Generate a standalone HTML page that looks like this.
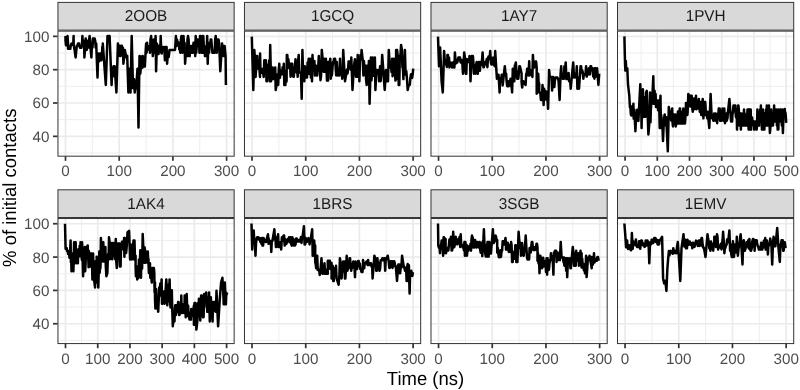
<!DOCTYPE html><html><head><meta charset="utf-8"><style>html,body{margin:0;padding:0;background:#fff;}svg{display:block;}text{font-family:"Liberation Sans",sans-serif;text-rendering:geometricPrecision;}</style></head><body>
<svg width="800" height="390" viewBox="0 0 800 390">
<rect width="800" height="390" fill="#fff"/>
<line x1="57.45" y1="153.01" x2="234.65" y2="153.01" stroke="#EBEBEB" stroke-width="0.86"/>
<line x1="57.45" y1="119.68" x2="234.65" y2="119.68" stroke="#EBEBEB" stroke-width="0.86"/>
<line x1="57.45" y1="86.35" x2="234.65" y2="86.35" stroke="#EBEBEB" stroke-width="0.86"/>
<line x1="57.45" y1="53.01" x2="234.65" y2="53.01" stroke="#EBEBEB" stroke-width="0.86"/>
<line x1="92.35" y1="30.63" x2="92.35" y2="156.38" stroke="#EBEBEB" stroke-width="0.86"/>
<line x1="146.05" y1="30.63" x2="146.05" y2="156.38" stroke="#EBEBEB" stroke-width="0.86"/>
<line x1="199.75" y1="30.63" x2="199.75" y2="156.38" stroke="#EBEBEB" stroke-width="0.86"/>
<line x1="57.45" y1="136.35" x2="234.65" y2="136.35" stroke="#EBEBEB" stroke-width="1.72"/>
<line x1="57.45" y1="103.01" x2="234.65" y2="103.01" stroke="#EBEBEB" stroke-width="1.72"/>
<line x1="57.45" y1="69.68" x2="234.65" y2="69.68" stroke="#EBEBEB" stroke-width="1.72"/>
<line x1="57.45" y1="36.35" x2="234.65" y2="36.35" stroke="#EBEBEB" stroke-width="1.72"/>
<line x1="65.50" y1="30.63" x2="65.50" y2="156.38" stroke="#EBEBEB" stroke-width="1.72"/>
<line x1="119.20" y1="30.63" x2="119.20" y2="156.38" stroke="#EBEBEB" stroke-width="1.72"/>
<line x1="172.90" y1="30.63" x2="172.90" y2="156.38" stroke="#EBEBEB" stroke-width="1.72"/>
<line x1="226.60" y1="30.63" x2="226.60" y2="156.38" stroke="#EBEBEB" stroke-width="1.72"/>
<clipPath id="c0"><rect x="57.45" y="30.63" width="177.20" height="125.75"/></clipPath>
<polyline clip-path="url(#c0)" points="65.5,36.1 65.5,40.7 66.0,45.3 66.5,43.0 67.0,45.3 67.5,36.1 68.0,43.0 68.0,48.8 68.6,48.8 69.2,47.8 69.7,46.7 70.3,48.8 70.9,44.7 71.5,43.6 72.0,44.7 72.6,44.7 73.2,44.7 73.6,36.1 73.7,44.7 74.3,48.8 74.6,49.9 75.6,57.4 76.8,45.7 77.4,45.7 78.0,43.6 78.5,43.6 79.1,43.6 79.6,46.7 80.2,47.8 80.7,47.8 81.3,47.8 81.9,45.7 82.4,36.1 83.1,45.3 83.6,40.7 84.1,43.0 84.4,57.4 85.1,47.6 85.7,38.4 86.2,49.9 86.8,49.9 87.4,43.0 87.9,40.7 88.5,47.6 89.0,40.7 89.6,36.1 90.1,40.7 90.7,49.9 91.4,57.4 91.9,45.3 92.5,47.6 93.0,38.4 93.6,38.4 94.1,38.4 94.6,38.4 95.2,40.7 95.7,47.6 96.2,43.6 97.5,77.4 98.2,53.6 98.7,58.7 99.2,61.2 99.7,56.1 100.2,53.6 100.7,58.7 100.7,57.0 101.3,60.3 101.8,57.0 102.3,47.0 102.8,57.0 102.8,43.6 105.8,85.0 107.5,36.1 109.6,36.1 111.6,85.0 112.1,71.2 112.6,68.7 113.1,68.7 113.6,66.2 114.1,76.2 114.6,66.2 116.4,92.5 117.9,43.6 118.4,56.1 118.9,49.9 119.5,45.7 120.1,47.8 120.6,56.1 121.2,45.7 121.8,45.7 122.3,49.9 122.9,47.8 123.4,63.7 124.2,57.2 124.8,49.9 125.4,52.8 126.0,57.2 126.6,55.7 127.2,55.7 128.4,92.5 129.4,68.7 130.5,92.5 131.7,36.1 133.0,88.1 133.6,83.7 134.1,79.3 134.7,92.5 135.3,88.1 135.9,88.1 136.5,83.7 137.5,68.7 138.5,127.6 139.5,56.1 139.8,56.1 140.3,73.7 140.8,67.8 141.3,62.0 141.8,62.0 142.3,67.8 142.3,56.1 142.8,56.1 143.3,60.3 143.8,66.6 144.3,64.5 144.8,66.6 146.1,43.6 146.6,52.8 147.1,42.8 147.7,49.5 148.3,46.1 148.8,49.5 149.4,46.1 150.0,52.8 150.5,39.4 151.1,36.1 151.7,42.8 152.2,42.8 152.8,56.1 153.4,49.5 153.9,39.4 154.5,42.8 155.1,52.8 155.6,36.1 156.1,71.2 156.9,43.6 157.4,47.8 158.0,47.8 158.5,54.1 159.1,45.7 159.6,49.9 160.2,52.0 160.7,36.1 161.2,50.3 161.7,53.6 162.2,47.0 162.8,50.3 163.3,50.3 163.9,47.0 164.4,50.3 164.9,60.3 165.5,47.0 166.0,47.0 166.6,47.0 167.1,63.7 167.6,57.0 168.2,53.6 168.7,57.0 169.5,49.9 175.0,49.9 175.3,46.1 175.9,36.1 176.4,46.1 177.0,39.4 177.6,42.8 178.2,42.8 178.8,46.1 178.8,42.8 179.3,49.5 179.8,49.5 180.4,52.8 180.9,39.4 181.4,36.1 181.9,49.5 182.5,52.8 183.0,39.4 183.5,36.1 184.1,46.1 184.6,42.8 185.1,63.7 185.8,52.8 186.4,56.1 186.9,56.1 187.5,39.4 188.0,36.1 188.6,39.4 189.1,56.1 189.7,56.1 190.2,46.1 190.8,46.1 191.3,52.8 191.9,46.1 192.4,52.8 193.0,52.8 193.5,42.8 194.1,42.8 194.6,49.5 195.2,49.5 195.2,56.1 195.7,36.1 196.2,52.8 196.8,46.1 197.3,39.4 197.8,39.4 198.4,42.8 198.9,39.4 199.5,52.8 200.0,36.1 200.5,36.1 201.1,39.4 201.6,52.8 202.2,46.1 202.7,52.8 202.7,36.1 203.3,36.1 203.8,46.1 204.4,46.1 205.0,56.1 205.5,56.1 206.1,52.8 206.7,49.5 207.2,36.1 207.7,63.7 208.5,42.8 209.1,52.8 209.6,42.8 210.2,46.1 210.7,39.4 211.3,39.4 211.8,46.1 212.4,52.8 212.9,52.8 213.5,52.8 214.1,52.8 214.6,52.8 215.2,39.4 215.7,36.1 216.3,46.1 216.8,52.8 217.4,39.4 218.0,49.5 218.5,39.4 219.1,42.8 220.3,71.2 222.1,43.6 223.6,56.1 224.6,46.1 225.6,56.1 225.9,85.0" fill="none" stroke="#000" stroke-width="2.50" stroke-linejoin="round"/>
<rect x="57.95" y="31.13" width="176.20" height="125.05" fill="none" stroke="#333" stroke-width="1.00"/>
<rect x="57.95" y="2.40" width="176.20" height="27.73" fill="#D9D9D9" stroke="#333" stroke-width="1.00"/>
<text transform="translate(146.05,21.30) scale(1,1.03)" font-size="15.3" fill="#1A1A1A" text-anchor="middle">2OOB</text>
<line x1="65.50" y1="156.38" x2="65.50" y2="160.82" stroke="#333" stroke-width="1.72"/>
<text transform="translate(65.50,176.30) scale(1,1.0)" font-size="15.2" fill="#4D4D4D" text-anchor="middle">0</text>
<line x1="119.20" y1="156.38" x2="119.20" y2="160.82" stroke="#333" stroke-width="1.72"/>
<text transform="translate(119.20,176.30) scale(1,1.0)" font-size="15.2" fill="#4D4D4D" text-anchor="middle">100</text>
<line x1="172.90" y1="156.38" x2="172.90" y2="160.82" stroke="#333" stroke-width="1.72"/>
<text transform="translate(172.90,176.30) scale(1,1.0)" font-size="15.2" fill="#4D4D4D" text-anchor="middle">200</text>
<line x1="226.60" y1="156.38" x2="226.60" y2="160.82" stroke="#333" stroke-width="1.72"/>
<text transform="translate(226.60,176.30) scale(1,1.0)" font-size="15.2" fill="#4D4D4D" text-anchor="middle">300</text>
<line x1="53.01" y1="136.35" x2="57.45" y2="136.35" stroke="#333" stroke-width="1.72"/>
<text transform="translate(49.40,141.79) scale(1,1.0)" font-size="15.2" fill="#4D4D4D" text-anchor="end">40</text>
<line x1="53.01" y1="103.01" x2="57.45" y2="103.01" stroke="#333" stroke-width="1.72"/>
<text transform="translate(49.40,108.45) scale(1,1.0)" font-size="15.2" fill="#4D4D4D" text-anchor="end">60</text>
<line x1="53.01" y1="69.68" x2="57.45" y2="69.68" stroke="#333" stroke-width="1.72"/>
<text transform="translate(49.40,75.12) scale(1,1.0)" font-size="15.2" fill="#4D4D4D" text-anchor="end">80</text>
<line x1="53.01" y1="36.35" x2="57.45" y2="36.35" stroke="#333" stroke-width="1.72"/>
<text transform="translate(49.40,41.79) scale(1,1.0)" font-size="15.2" fill="#4D4D4D" text-anchor="end">100</text>
<line x1="243.97" y1="153.01" x2="421.17" y2="153.01" stroke="#EBEBEB" stroke-width="0.86"/>
<line x1="243.97" y1="119.68" x2="421.17" y2="119.68" stroke="#EBEBEB" stroke-width="0.86"/>
<line x1="243.97" y1="86.35" x2="421.17" y2="86.35" stroke="#EBEBEB" stroke-width="0.86"/>
<line x1="243.97" y1="53.01" x2="421.17" y2="53.01" stroke="#EBEBEB" stroke-width="0.86"/>
<line x1="278.87" y1="30.63" x2="278.87" y2="156.38" stroke="#EBEBEB" stroke-width="0.86"/>
<line x1="332.57" y1="30.63" x2="332.57" y2="156.38" stroke="#EBEBEB" stroke-width="0.86"/>
<line x1="386.27" y1="30.63" x2="386.27" y2="156.38" stroke="#EBEBEB" stroke-width="0.86"/>
<line x1="243.97" y1="136.35" x2="421.17" y2="136.35" stroke="#EBEBEB" stroke-width="1.72"/>
<line x1="243.97" y1="103.01" x2="421.17" y2="103.01" stroke="#EBEBEB" stroke-width="1.72"/>
<line x1="243.97" y1="69.68" x2="421.17" y2="69.68" stroke="#EBEBEB" stroke-width="1.72"/>
<line x1="243.97" y1="36.35" x2="421.17" y2="36.35" stroke="#EBEBEB" stroke-width="1.72"/>
<line x1="252.02" y1="30.63" x2="252.02" y2="156.38" stroke="#EBEBEB" stroke-width="1.72"/>
<line x1="305.72" y1="30.63" x2="305.72" y2="156.38" stroke="#EBEBEB" stroke-width="1.72"/>
<line x1="359.42" y1="30.63" x2="359.42" y2="156.38" stroke="#EBEBEB" stroke-width="1.72"/>
<line x1="413.12" y1="30.63" x2="413.12" y2="156.38" stroke="#EBEBEB" stroke-width="1.72"/>
<clipPath id="c1"><rect x="243.97" y="30.63" width="177.20" height="125.75"/></clipPath>
<polyline clip-path="url(#c1)" points="251.8,36.6 253.3,90.0 254.3,49.9 255.1,60.3 255.6,77.0 256.2,68.7 256.7,56.1 257.3,56.1 257.8,64.5 258.3,68.7 258.9,64.5 259.4,68.7 260.0,77.0 260.1,53.6 260.5,72.9 261.0,72.9 261.6,68.7 262.1,72.9 262.7,72.9 263.2,72.9 263.7,77.0 264.3,60.3 264.8,72.9 265.4,72.9 265.9,60.3 266.5,81.2 267.0,81.2 267.5,68.7 268.1,64.5 268.6,77.0 269.2,60.3 269.7,81.2 270.2,44.9 271.0,81.2 271.5,78.9 272.0,72.0 272.6,67.4 273.1,78.9 273.6,78.9 274.2,78.9 274.7,78.9 275.2,67.4 275.7,90.0 276.5,85.0 277.1,85.0 277.6,74.3 278.2,85.0 278.7,70.8 279.3,63.7 279.9,77.9 280.4,74.3 281.0,70.8 281.5,74.3 282.1,74.3 282.6,67.2 283.2,74.3 283.8,63.7 284.3,85.0 284.9,85.0 285.4,85.0 286.0,70.8 286.6,81.4 286.8,54.9 287.3,54.9 287.9,63.7 288.4,59.3 289.0,68.1 289.5,68.1 290.0,63.7 290.6,76.8 291.1,63.7 291.7,63.7 292.2,63.7 292.8,72.4 293.3,76.8 293.8,76.8 294.4,68.1 294.9,68.1 295.5,59.3 296.0,63.7 296.6,72.4 297.1,68.1 297.7,76.8 298.2,59.3 298.7,54.9 299.3,72.4 299.8,72.4 300.4,72.4 300.9,72.4 301.7,98.8 302.4,49.9 303.2,77.4 303.7,66.2 304.3,81.2 304.8,66.2 305.4,69.9 305.9,77.4 306.5,77.4 307.0,77.4 307.6,62.4 308.1,66.2 308.7,58.7 309.2,73.7 309.8,66.2 310.3,58.7 310.9,77.4 311.4,69.9 312.0,81.2 312.5,54.9 313.2,70.6 313.8,60.9 314.4,60.9 314.9,75.4 315.5,70.6 316.0,65.8 316.6,75.4 317.2,75.4 317.7,65.8 318.3,65.8 318.8,56.1 319.4,70.6 319.9,70.6 320.5,80.2 321.1,75.4 321.8,49.9 322.6,58.7 323.1,58.7 323.7,71.8 324.2,58.7 324.8,71.8 325.3,67.4 325.9,58.7 326.4,67.4 327.0,80.6 327.5,80.6 328.1,80.6 328.1,62.0 328.6,65.3 329.2,68.7 329.7,62.0 330.3,58.7 330.8,78.7 331.3,72.0 331.9,75.4 332.4,68.7 333.0,62.0 333.5,62.0 334.1,58.7 334.6,58.7 335.1,58.7 335.7,68.7 336.2,75.4 336.8,62.0 337.3,72.0 337.8,75.4 338.4,68.7 338.9,75.4 339.5,75.4 340.0,58.7 340.5,72.0 341.1,68.7 341.6,68.7 342.2,78.7 342.7,72.0 343.2,49.9 345.0,81.2 347.0,69.5 347.5,73.5 348.1,69.5 348.6,61.6 349.1,61.6 349.7,61.6 350.2,61.6 350.7,69.5 351.3,57.6 352.5,90.0 353.8,68.1 354.3,63.7 354.9,59.3 355.5,68.1 356.0,76.8 356.6,76.8 357.1,72.4 357.7,54.9 358.3,76.8 358.8,63.7 359.4,81.2 360.0,59.3 360.5,54.9 361.1,59.3 361.6,49.9 362.8,60.9 363.4,75.4 363.9,60.9 364.5,70.6 365.0,70.6 365.6,65.8 366.1,80.2 366.7,85.0 367.2,65.8 367.8,80.2 368.3,80.2 368.9,60.9 369.6,103.8 370.9,57.4 371.5,80.4 372.0,71.2 372.6,57.4 373.2,75.8 373.8,71.2 374.4,71.2 374.9,57.4 375.4,90.0 376.4,69.9 377.0,69.9 377.5,73.7 378.0,73.7 378.6,69.9 379.1,81.2 379.6,73.7 380.1,66.2 380.7,81.2 381.2,73.7 381.7,66.2 382.2,54.9 384.7,90.0 386.0,69.9 386.5,69.9 387.0,81.2 387.5,81.2 388.0,81.2 388.8,49.9 389.8,67.4 390.4,63.0 390.9,63.0 391.5,71.8 392.1,58.7 392.6,76.2 393.2,67.4 393.8,58.7 394.4,71.8 394.9,71.8 395.5,80.6 396.1,76.2 396.1,49.9 396.6,79.1 397.1,49.9 397.7,55.7 398.2,55.7 398.7,85.0 399.3,85.0 399.8,55.7 400.4,55.7 401.1,44.9 401.9,49.9 402.4,67.4 402.9,67.4 403.4,79.1 403.9,61.6 404.4,61.6 404.9,49.9 405.6,74.5 406.3,71.2 406.9,77.9 407.7,90.0 408.7,85.0 409.2,85.0 409.8,85.0 410.4,77.9 411.0,74.3 411.5,74.3 412.1,77.9 412.7,74.3 413.2,68.7" fill="none" stroke="#000" stroke-width="2.50" stroke-linejoin="round"/>
<rect x="244.47" y="31.13" width="176.20" height="125.05" fill="none" stroke="#333" stroke-width="1.00"/>
<rect x="244.47" y="2.40" width="176.20" height="27.73" fill="#D9D9D9" stroke="#333" stroke-width="1.00"/>
<text transform="translate(332.57,21.30) scale(1,1.03)" font-size="15.3" fill="#1A1A1A" text-anchor="middle">1GCQ</text>
<line x1="252.02" y1="156.38" x2="252.02" y2="160.82" stroke="#333" stroke-width="1.72"/>
<text transform="translate(252.02,176.30) scale(1,1.0)" font-size="15.2" fill="#4D4D4D" text-anchor="middle">0</text>
<line x1="305.72" y1="156.38" x2="305.72" y2="160.82" stroke="#333" stroke-width="1.72"/>
<text transform="translate(305.72,176.30) scale(1,1.0)" font-size="15.2" fill="#4D4D4D" text-anchor="middle">100</text>
<line x1="359.42" y1="156.38" x2="359.42" y2="160.82" stroke="#333" stroke-width="1.72"/>
<text transform="translate(359.42,176.30) scale(1,1.0)" font-size="15.2" fill="#4D4D4D" text-anchor="middle">200</text>
<line x1="413.12" y1="156.38" x2="413.12" y2="160.82" stroke="#333" stroke-width="1.72"/>
<text transform="translate(413.12,176.30) scale(1,1.0)" font-size="15.2" fill="#4D4D4D" text-anchor="middle">300</text>
<line x1="430.49" y1="153.01" x2="607.69" y2="153.01" stroke="#EBEBEB" stroke-width="0.86"/>
<line x1="430.49" y1="119.68" x2="607.69" y2="119.68" stroke="#EBEBEB" stroke-width="0.86"/>
<line x1="430.49" y1="86.35" x2="607.69" y2="86.35" stroke="#EBEBEB" stroke-width="0.86"/>
<line x1="430.49" y1="53.01" x2="607.69" y2="53.01" stroke="#EBEBEB" stroke-width="0.86"/>
<line x1="465.39" y1="30.63" x2="465.39" y2="156.38" stroke="#EBEBEB" stroke-width="0.86"/>
<line x1="519.09" y1="30.63" x2="519.09" y2="156.38" stroke="#EBEBEB" stroke-width="0.86"/>
<line x1="572.79" y1="30.63" x2="572.79" y2="156.38" stroke="#EBEBEB" stroke-width="0.86"/>
<line x1="430.49" y1="136.35" x2="607.69" y2="136.35" stroke="#EBEBEB" stroke-width="1.72"/>
<line x1="430.49" y1="103.01" x2="607.69" y2="103.01" stroke="#EBEBEB" stroke-width="1.72"/>
<line x1="430.49" y1="69.68" x2="607.69" y2="69.68" stroke="#EBEBEB" stroke-width="1.72"/>
<line x1="430.49" y1="36.35" x2="607.69" y2="36.35" stroke="#EBEBEB" stroke-width="1.72"/>
<line x1="438.54" y1="30.63" x2="438.54" y2="156.38" stroke="#EBEBEB" stroke-width="1.72"/>
<line x1="492.24" y1="30.63" x2="492.24" y2="156.38" stroke="#EBEBEB" stroke-width="1.72"/>
<line x1="545.94" y1="30.63" x2="545.94" y2="156.38" stroke="#EBEBEB" stroke-width="1.72"/>
<line x1="599.64" y1="30.63" x2="599.64" y2="156.38" stroke="#EBEBEB" stroke-width="1.72"/>
<clipPath id="c2"><rect x="430.49" y="30.63" width="177.20" height="125.75"/></clipPath>
<polyline clip-path="url(#c2)" points="438.0,36.6 439.0,66.2 440.1,47.4 441.6,81.2 442.8,92.5 444.1,51.1 444.8,60.7 445.3,62.8 445.8,60.7 446.3,64.9 446.9,67.0 447.4,64.9 447.4,54.9 447.9,54.9 448.4,64.9 449.0,57.4 449.5,67.4 450.1,62.4 450.6,62.4 451.2,64.9 451.7,64.9 452.2,67.4 452.8,62.4 453.3,62.4 453.9,67.4 454.4,67.4 454.9,52.4 455.7,63.7 456.2,59.9 456.8,62.4 457.3,62.4 457.8,59.9 458.4,57.4 458.9,59.9 459.5,58.7 460.0,57.4 460.6,62.4 461.1,59.9 461.7,59.9 462.2,61.2 463.0,73.7 464.2,52.4 464.7,56.1 465.3,64.9 465.8,73.7 466.3,73.7 466.8,59.1 467.4,62.0 467.9,62.0 468.4,62.0 469.0,62.0 469.5,56.1 470.0,59.1 470.5,81.2 471.3,64.9 471.8,56.1 472.4,56.1 472.9,56.1 473.4,62.0 474.0,73.7 474.5,64.9 475.1,67.8 475.6,73.7 476.1,64.9 476.7,62.0 477.2,70.8 477.8,73.7 478.3,64.9 478.8,62.0 479.4,62.0 479.9,70.8 480.5,62.0 481.0,62.0 481.6,64.9 482.1,59.1 482.6,52.4 483.4,67.2 483.9,67.2 484.5,64.5 485.1,64.5 485.6,61.8 486.2,61.8 486.8,59.1 487.4,67.2 487.9,59.1 488.5,56.4 489.1,59.1 489.6,59.1 490.2,51.1 490.9,62.8 491.4,64.5 492.0,64.5 492.5,57.8 493.1,64.5 493.6,57.8 494.1,64.5 494.7,66.2 495.2,51.1 496.9,78.7 498.0,78.3 498.5,74.7 499.0,81.8 499.6,92.5 500.1,78.3 500.6,78.3 501.1,81.8 501.7,74.7 502.2,74.7 502.7,85.4 504.8,66.2 505.5,73.7 506.1,73.7 506.6,81.2 507.2,86.2 507.7,81.2 508.3,81.2 508.8,86.2 509.4,81.2 509.9,83.7 510.5,78.7 511.0,86.2 511.6,86.2 512.1,92.5 512.8,68.7 513.3,71.8 513.8,71.8 514.3,81.2 514.8,65.5 515.3,65.5 515.8,62.4 516.6,73.7 517.1,78.7 517.7,76.2 518.3,78.7 518.8,73.7 519.4,66.2 519.9,66.2 520.5,68.7 521.1,71.2 521.6,73.7 521.6,82.5 522.2,87.5 522.8,82.5 523.3,81.2 523.9,83.7 524.5,83.7 525.1,82.5 525.6,85.0 526.2,73.7 526.7,73.7 527.2,68.7 527.7,72.0 528.2,75.4 528.7,72.0 529.2,61.2 529.7,75.4 530.2,70.3 530.8,70.3 531.3,72.0 531.9,72.0 532.4,77.0 532.9,54.9 533.7,67.4 534.3,67.4 534.9,64.5 535.5,61.6 536.1,61.6 536.7,67.4 536.7,93.7 537.2,88.7 537.7,83.7 538.2,73.7 538.7,83.7 539.2,83.7 539.2,92.5 539.8,92.5 540.3,92.5 540.9,100.0 541.4,100.0 541.9,100.0 542.5,85.0 543.0,96.2 543.0,88.7 543.6,105.0 544.1,88.7 544.6,91.4 545.2,99.6 545.7,91.4 546.2,91.4 546.8,96.9 547.3,96.9 548.1,108.8 549.1,69.9 549.8,77.0 550.4,77.0 550.9,77.0 551.5,77.0 552.1,90.4 552.6,77.0 553.2,77.0 553.7,83.7 554.3,87.1 554.9,80.4 555.6,77.4 556.2,77.4 556.8,77.4 557.4,77.4 558.0,78.7 558.6,81.2 559.6,100.0 560.6,73.7 561.2,66.2 561.7,76.2 562.2,76.2 562.8,78.7 563.3,78.7 563.9,78.7 564.4,66.2 564.9,73.7 565.7,62.4 566.4,79.1 567.0,74.9 567.5,74.9 568.0,79.1 568.6,72.9 569.1,81.2 569.7,81.2 570.2,81.2 570.7,88.7 573.2,62.4 574.0,77.4 574.5,77.4 575.1,73.7 575.7,77.4 576.2,77.4 576.8,66.2 577.4,88.7 577.9,77.4 578.5,85.0 579.0,88.7 580.0,74.5 580.6,66.2 581.1,66.2 581.7,72.4 582.2,70.3 582.8,72.4 583.3,78.7 583.9,74.5 584.4,74.5 585.0,74.5 585.5,74.5 586.1,66.2 586.7,76.6 587.2,74.5 587.8,74.5 588.3,74.5 588.9,68.3 589.4,68.3 590.0,74.5 590.5,66.2 591.1,66.2 591.6,70.3 592.2,70.3 592.7,68.3 593.3,76.6 593.8,70.3 594.4,78.7 594.9,68.3 595.5,68.3 596.0,70.3 596.6,76.6 597.1,68.3 598.4,85.0 599.2,73.7" fill="none" stroke="#000" stroke-width="2.50" stroke-linejoin="round"/>
<rect x="430.99" y="31.13" width="176.20" height="125.05" fill="none" stroke="#333" stroke-width="1.00"/>
<rect x="430.99" y="2.40" width="176.20" height="27.73" fill="#D9D9D9" stroke="#333" stroke-width="1.00"/>
<text transform="translate(519.09,21.30) scale(1,1.03)" font-size="15.3" fill="#1A1A1A" text-anchor="middle">1AY7</text>
<line x1="438.54" y1="156.38" x2="438.54" y2="160.82" stroke="#333" stroke-width="1.72"/>
<text transform="translate(438.54,176.30) scale(1,1.0)" font-size="15.2" fill="#4D4D4D" text-anchor="middle">0</text>
<line x1="492.24" y1="156.38" x2="492.24" y2="160.82" stroke="#333" stroke-width="1.72"/>
<text transform="translate(492.24,176.30) scale(1,1.0)" font-size="15.2" fill="#4D4D4D" text-anchor="middle">100</text>
<line x1="545.94" y1="156.38" x2="545.94" y2="160.82" stroke="#333" stroke-width="1.72"/>
<text transform="translate(545.94,176.30) scale(1,1.0)" font-size="15.2" fill="#4D4D4D" text-anchor="middle">200</text>
<line x1="599.64" y1="156.38" x2="599.64" y2="160.82" stroke="#333" stroke-width="1.72"/>
<text transform="translate(599.64,176.30) scale(1,1.0)" font-size="15.2" fill="#4D4D4D" text-anchor="middle">300</text>
<line x1="617.01" y1="153.01" x2="794.21" y2="153.01" stroke="#EBEBEB" stroke-width="0.86"/>
<line x1="617.01" y1="119.68" x2="794.21" y2="119.68" stroke="#EBEBEB" stroke-width="0.86"/>
<line x1="617.01" y1="86.35" x2="794.21" y2="86.35" stroke="#EBEBEB" stroke-width="0.86"/>
<line x1="617.01" y1="53.01" x2="794.21" y2="53.01" stroke="#EBEBEB" stroke-width="0.86"/>
<line x1="641.17" y1="30.63" x2="641.17" y2="156.38" stroke="#EBEBEB" stroke-width="0.86"/>
<line x1="673.39" y1="30.63" x2="673.39" y2="156.38" stroke="#EBEBEB" stroke-width="0.86"/>
<line x1="705.61" y1="30.63" x2="705.61" y2="156.38" stroke="#EBEBEB" stroke-width="0.86"/>
<line x1="737.83" y1="30.63" x2="737.83" y2="156.38" stroke="#EBEBEB" stroke-width="0.86"/>
<line x1="770.05" y1="30.63" x2="770.05" y2="156.38" stroke="#EBEBEB" stroke-width="0.86"/>
<line x1="617.01" y1="136.35" x2="794.21" y2="136.35" stroke="#EBEBEB" stroke-width="1.72"/>
<line x1="617.01" y1="103.01" x2="794.21" y2="103.01" stroke="#EBEBEB" stroke-width="1.72"/>
<line x1="617.01" y1="69.68" x2="794.21" y2="69.68" stroke="#EBEBEB" stroke-width="1.72"/>
<line x1="617.01" y1="36.35" x2="794.21" y2="36.35" stroke="#EBEBEB" stroke-width="1.72"/>
<line x1="625.06" y1="30.63" x2="625.06" y2="156.38" stroke="#EBEBEB" stroke-width="1.72"/>
<line x1="657.28" y1="30.63" x2="657.28" y2="156.38" stroke="#EBEBEB" stroke-width="1.72"/>
<line x1="689.50" y1="30.63" x2="689.50" y2="156.38" stroke="#EBEBEB" stroke-width="1.72"/>
<line x1="721.72" y1="30.63" x2="721.72" y2="156.38" stroke="#EBEBEB" stroke-width="1.72"/>
<line x1="753.94" y1="30.63" x2="753.94" y2="156.38" stroke="#EBEBEB" stroke-width="1.72"/>
<line x1="786.16" y1="30.63" x2="786.16" y2="156.38" stroke="#EBEBEB" stroke-width="1.72"/>
<clipPath id="c3"><rect x="617.01" y="30.63" width="177.20" height="125.75"/></clipPath>
<polyline clip-path="url(#c3)" points="624.4,36.4 624.7,50.4 625.1,65.7 625.4,70.6 625.8,60.9 626.2,68.2 626.6,68.2 627.0,68.2 627.3,68.2 628.0,84.3 629.3,95.7 629.9,107.3 630.3,105.4 630.6,111.0 630.9,114.8 631.2,111.0 631.2,109.7 631.6,115.6 631.9,106.7 632.3,115.6 632.6,115.6 633.0,112.7 633.4,103.8 633.7,118.6 634.1,118.6 634.4,109.7 634.8,118.6 635.4,131.3 636.1,117.2 636.5,113.5 636.8,117.2 637.2,109.7 637.6,117.2 638.0,117.2 638.4,121.0 640.3,84.3 640.9,106.5 641.3,111.8 641.6,128.0 641.9,106.5 642.2,111.8 642.6,117.2 642.9,89.2 643.5,116.7 643.9,111.8 644.3,97.3 644.7,116.7 645.0,116.7 645.4,116.7 645.8,102.1 646.1,92.4 646.8,90.8 648.4,134.5 649.4,122.1 649.7,116.2 650.1,92.4 650.5,122.1 650.8,110.2 651.2,104.3 651.6,104.3 651.9,98.4 652.3,98.4 653.3,76.2 653.9,103.8 654.3,90.8 654.6,90.8 654.9,97.3 655.3,103.8 655.6,94.0 656.0,107.0 656.3,103.8 656.7,107.0 657.0,100.5 657.4,100.5 657.7,103.8 658.1,110.2 658.4,107.0 658.8,100.5 659.1,100.5 659.7,128.0 660.1,102.1 660.5,95.7 660.9,128.0 661.2,115.1 661.6,128.0 662.0,128.0 662.3,121.6 663.0,141.0 664.0,117.2 664.3,117.2 664.7,114.5 665.1,125.3 665.5,125.3 665.9,119.9 666.2,117.2 667.8,151.3 668.8,107.0 670.1,114.5 670.5,114.5 670.8,117.5 671.2,120.5 671.5,120.5 671.9,111.6 672.2,108.6 672.6,123.4 673.0,126.4 673.3,123.4 673.7,114.5 674.0,114.5 674.4,123.4 674.7,123.4 675.1,120.5 675.4,114.5 675.8,126.4 676.2,120.5 676.5,117.5 676.9,123.4 677.2,120.5 677.6,120.5 677.9,111.6 678.3,123.4 678.6,123.4 679.0,111.6 679.3,123.4 679.7,108.6 680.1,108.6 680.4,120.5 680.8,111.6 681.1,123.4 681.5,117.5 681.8,117.5 682.2,123.4 682.5,114.5 682.9,120.5 683.3,108.6 683.6,123.4 684.0,123.4 684.3,111.6 684.7,120.5 685.0,123.4 685.7,112.7 686.0,102.9 686.3,112.7 686.6,107.8 687.0,110.2 687.3,115.1 687.6,112.7 688.3,94.0 689.2,98.4 689.6,98.4 690.0,95.7 690.3,106.5 690.7,95.7 691.0,101.1 691.4,98.4 691.7,95.7 692.1,106.5 692.4,109.2 692.8,111.8 693.1,106.5 693.5,109.2 693.9,98.4 694.2,109.2 694.6,103.8 694.9,103.8 695.3,106.5 695.6,101.1 696.0,95.7 696.3,109.2 696.7,106.5 697.3,105.4 697.7,108.6 698.1,108.6 698.4,102.1 698.8,98.9 699.1,108.6 699.5,105.4 699.8,111.8 700.2,108.6 700.6,102.1 700.9,111.8 701.3,115.1 701.6,102.1 702.0,115.1 702.3,102.1 702.7,98.9 703.0,111.8 703.4,118.3 703.8,111.8 704.1,102.1 704.5,102.1 704.8,115.1 705.2,102.1 705.5,105.4 705.9,115.1 706.3,115.1 706.6,115.1 707.0,115.1 707.3,118.3 707.7,111.8 708.0,115.1 709.3,128.0 710.6,94.0 711.6,115.9 712.0,118.3 712.3,118.3 712.7,115.9 713.0,118.3 713.4,120.7 713.7,120.7 714.1,113.5 714.4,115.9 714.8,115.9 715.1,115.9 715.5,113.5 715.8,120.7 716.2,120.7 716.5,120.7 716.9,120.7 717.2,123.2 717.6,113.5 717.9,113.5 718.3,118.3 718.7,108.6 719.0,108.6 719.4,108.6 719.7,108.6 720.1,120.7 720.4,113.5 720.8,111.0 721.1,111.0 721.5,111.0 721.8,120.7 722.2,113.5 722.5,108.6 722.9,118.3 723.2,111.0 723.6,115.9 723.9,120.7 724.3,108.6 724.6,115.9 725.0,123.2 725.3,120.7 725.7,120.7 726.1,118.3 726.4,113.5 726.8,120.7 727.1,118.3 727.5,118.3 727.8,113.5 729.4,98.9 731.1,121.6 731.4,117.5 731.8,117.5 732.1,121.6 732.5,113.5 732.8,113.5 733.2,109.4 733.5,105.4 733.9,109.4 734.2,109.4 734.6,105.4 734.9,105.4 735.3,105.4 735.6,113.5 736.0,117.5 736.3,109.4 736.7,109.4 737.0,129.6 737.4,113.5 737.7,125.6 738.1,105.4 738.4,105.4 738.8,109.4 739.1,117.5 739.5,117.5 739.8,125.6 740.2,113.5 740.5,113.5 740.9,129.6 741.2,113.5 741.6,113.5 741.9,117.5 742.3,121.6 742.6,117.5 743.0,125.6 743.3,125.6 743.7,125.6 744.0,109.4 744.4,121.6 744.7,113.5 745.1,121.6 745.4,125.6 745.8,117.5 746.1,125.6 746.5,125.6 746.8,117.5 747.2,117.5 747.5,109.4 747.9,109.4 748.2,109.4 748.6,129.6 748.9,109.4 749.3,129.6 749.7,109.4 750.0,109.4 750.4,109.4 750.7,109.4 751.1,129.6 751.4,117.5 751.8,121.6 752.1,117.5 752.5,121.6 752.8,121.6 753.2,121.6 753.5,125.6 753.9,121.6 754.2,129.6 754.6,125.6 754.9,121.6 755.3,121.6 755.6,125.6 756.0,125.6 756.3,129.6 756.7,129.6 757.0,125.6 757.4,109.4 757.7,113.5 758.1,121.6 758.4,121.6 758.8,113.5 759.1,125.6 759.5,113.5 759.8,117.5 760.2,109.4 760.5,121.6 760.9,105.4 761.2,121.6 761.6,113.5 761.9,129.6 762.3,117.5 762.6,117.5 763.0,109.4 763.3,117.5 763.7,121.6 764.0,129.6 764.4,129.6 764.7,113.5 765.1,125.6 765.4,117.5 765.8,121.6 766.1,109.4 766.5,125.6 766.8,105.4 767.2,125.6 767.5,117.5 767.9,109.4 768.2,125.6 768.6,113.5 768.9,105.4 769.3,117.5 769.9,132.9 770.9,121.6 771.3,109.4 771.6,125.6 772.0,113.5 772.3,121.6 772.7,117.5 773.0,125.6 773.4,117.5 773.8,121.6 774.1,105.4 774.5,117.5 774.8,113.5 775.2,121.6 775.5,121.6 775.9,121.6 776.2,109.4 776.6,109.4 776.9,125.6 777.3,117.5 777.7,129.6 778.0,125.6 778.4,129.6 778.7,109.4 779.1,121.6 779.4,121.6 779.8,113.5 780.1,109.4 780.5,109.4 780.8,109.4 781.2,113.5 781.6,121.6 781.9,125.6 782.3,109.4 782.9,132.9 783.6,112.4 783.9,115.9 784.3,115.9 784.7,108.9 785.0,115.9 785.4,112.4 785.8,115.9 786.2,122.9" fill="none" stroke="#000" stroke-width="2.50" stroke-linejoin="round"/>
<rect x="617.51" y="31.13" width="176.20" height="125.05" fill="none" stroke="#333" stroke-width="1.00"/>
<rect x="617.51" y="2.40" width="176.20" height="27.73" fill="#D9D9D9" stroke="#333" stroke-width="1.00"/>
<text transform="translate(705.61,21.30) scale(1,1.03)" font-size="15.3" fill="#1A1A1A" text-anchor="middle">1PVH</text>
<line x1="625.06" y1="156.38" x2="625.06" y2="160.82" stroke="#333" stroke-width="1.72"/>
<text transform="translate(625.06,176.30) scale(1,1.0)" font-size="15.2" fill="#4D4D4D" text-anchor="middle">0</text>
<line x1="657.28" y1="156.38" x2="657.28" y2="160.82" stroke="#333" stroke-width="1.72"/>
<text transform="translate(657.28,176.30) scale(1,1.0)" font-size="15.2" fill="#4D4D4D" text-anchor="middle">100</text>
<line x1="689.50" y1="156.38" x2="689.50" y2="160.82" stroke="#333" stroke-width="1.72"/>
<text transform="translate(689.50,176.30) scale(1,1.0)" font-size="15.2" fill="#4D4D4D" text-anchor="middle">200</text>
<line x1="721.72" y1="156.38" x2="721.72" y2="160.82" stroke="#333" stroke-width="1.72"/>
<text transform="translate(721.72,176.30) scale(1,1.0)" font-size="15.2" fill="#4D4D4D" text-anchor="middle">300</text>
<line x1="753.94" y1="156.38" x2="753.94" y2="160.82" stroke="#333" stroke-width="1.72"/>
<text transform="translate(753.94,176.30) scale(1,1.0)" font-size="15.2" fill="#4D4D4D" text-anchor="middle">400</text>
<line x1="786.16" y1="156.38" x2="786.16" y2="160.82" stroke="#333" stroke-width="1.72"/>
<text transform="translate(786.16,176.30) scale(1,1.0)" font-size="15.2" fill="#4D4D4D" text-anchor="middle">500</text>
<line x1="57.45" y1="340.41" x2="234.65" y2="340.41" stroke="#EBEBEB" stroke-width="0.86"/>
<line x1="57.45" y1="307.08" x2="234.65" y2="307.08" stroke="#EBEBEB" stroke-width="0.86"/>
<line x1="57.45" y1="273.75" x2="234.65" y2="273.75" stroke="#EBEBEB" stroke-width="0.86"/>
<line x1="57.45" y1="240.41" x2="234.65" y2="240.41" stroke="#EBEBEB" stroke-width="0.86"/>
<line x1="81.61" y1="218.03" x2="81.61" y2="343.78" stroke="#EBEBEB" stroke-width="0.86"/>
<line x1="113.83" y1="218.03" x2="113.83" y2="343.78" stroke="#EBEBEB" stroke-width="0.86"/>
<line x1="146.05" y1="218.03" x2="146.05" y2="343.78" stroke="#EBEBEB" stroke-width="0.86"/>
<line x1="178.27" y1="218.03" x2="178.27" y2="343.78" stroke="#EBEBEB" stroke-width="0.86"/>
<line x1="210.49" y1="218.03" x2="210.49" y2="343.78" stroke="#EBEBEB" stroke-width="0.86"/>
<line x1="57.45" y1="323.75" x2="234.65" y2="323.75" stroke="#EBEBEB" stroke-width="1.72"/>
<line x1="57.45" y1="290.41" x2="234.65" y2="290.41" stroke="#EBEBEB" stroke-width="1.72"/>
<line x1="57.45" y1="257.08" x2="234.65" y2="257.08" stroke="#EBEBEB" stroke-width="1.72"/>
<line x1="57.45" y1="223.75" x2="234.65" y2="223.75" stroke="#EBEBEB" stroke-width="1.72"/>
<line x1="65.50" y1="218.03" x2="65.50" y2="343.78" stroke="#EBEBEB" stroke-width="1.72"/>
<line x1="97.72" y1="218.03" x2="97.72" y2="343.78" stroke="#EBEBEB" stroke-width="1.72"/>
<line x1="129.94" y1="218.03" x2="129.94" y2="343.78" stroke="#EBEBEB" stroke-width="1.72"/>
<line x1="162.16" y1="218.03" x2="162.16" y2="343.78" stroke="#EBEBEB" stroke-width="1.72"/>
<line x1="194.38" y1="218.03" x2="194.38" y2="343.78" stroke="#EBEBEB" stroke-width="1.72"/>
<line x1="226.60" y1="218.03" x2="226.60" y2="343.78" stroke="#EBEBEB" stroke-width="1.72"/>
<clipPath id="c4"><rect x="57.45" y="218.03" width="177.20" height="125.75"/></clipPath>
<polyline clip-path="url(#c4)" points="65.0,223.7 65.6,248.7 66.0,248.1 66.3,248.1 66.7,248.1 67.0,251.1 67.4,251.1 67.8,251.1 68.1,254.1 68.5,251.1 68.8,251.1 69.2,254.1 69.5,257.8 69.9,257.8 70.2,249.2 70.6,240.6 70.9,262.2 71.3,262.2 71.5,271.3 71.7,257.8 72.0,257.8 72.4,253.5 72.7,253.5 73.1,257.8 73.4,271.3 74.1,242.2 74.4,256.2 74.8,259.7 75.1,263.2 75.5,242.2 75.7,242.2 75.8,259.7 76.2,263.2 76.5,252.7 76.9,259.7 77.2,259.7 77.6,252.7 77.9,263.2 78.3,249.2 78.6,256.2 79.0,252.7 79.3,256.2 79.7,245.7 80.0,256.2 80.4,256.2 80.5,242.2 80.7,256.2 81.1,252.7 81.4,249.2 81.8,259.7 82.1,242.2 83.1,276.2 83.8,255.1 84.1,267.3 84.5,259.2 84.8,247.0 85.2,271.3 85.6,263.2 85.9,255.1 86.3,247.0 86.6,255.1 87.0,255.1 87.7,245.4 88.3,259.2 88.6,267.3 88.9,251.1 89.3,255.1 89.6,263.2 89.9,259.2 90.2,259.2 90.2,266.5 90.6,253.5 91.0,253.5 91.3,253.5 91.7,253.5 92.0,262.2 92.4,279.4 92.8,262.2 93.1,253.5 93.5,275.1 95.1,287.5 95.7,261.1 96.1,278.3 96.4,278.3 96.7,256.8 97.0,282.6 97.4,269.7 97.7,265.4 98.3,287.5 99.3,251.4 99.6,272.9 100.0,268.6 100.3,268.6 100.6,264.3 100.9,238.0 101.6,251.9 101.9,251.9 102.3,251.9 102.6,256.8 103.0,261.6 103.3,242.2 103.7,256.8 104.0,251.9 104.4,261.6 104.7,251.9 105.1,261.6 105.4,247.0 105.8,266.5 106.4,276.2 107.4,272.9 107.7,261.6 108.1,254.1 108.4,254.1 108.7,254.1 109.0,237.3 109.7,243.0 110.0,259.2 110.4,255.1 110.8,255.1 111.1,247.0 111.5,247.0 111.8,243.0 112.2,259.2 112.5,251.1 112.9,251.1 113.3,243.0 113.6,255.1 114.0,255.1 114.3,255.1 114.7,255.1 115.1,259.2 115.4,247.0 115.8,239.0 116.1,259.2 116.8,268.1 117.4,257.3 117.8,243.5 118.2,243.5 118.5,243.5 118.9,252.7 119.2,243.5 119.6,243.5 119.9,266.5 120.3,266.5 120.6,266.5 121.0,248.1 121.0,245.4 121.3,249.2 121.7,249.2 122.0,241.7 122.4,241.7 122.7,245.4 123.1,249.2 123.4,241.7 123.7,245.4 124.1,237.9 124.4,256.8 124.8,237.9 125.1,241.7 125.5,253.0 125.8,245.4 126.1,253.0 126.5,249.2 126.8,245.4 127.5,232.5 129.1,230.9 129.7,248.1 130.1,259.5 130.4,255.7 130.8,244.4 131.1,251.9 131.5,251.9 131.8,259.5 132.1,251.9 132.5,251.9 132.8,255.7 133.2,244.4 133.5,240.6 133.9,251.9 134.2,259.5 134.5,240.6 134.9,255.7 135.2,255.7 135.6,255.7 135.6,266.5 135.9,276.2 136.2,266.5 136.5,266.5 136.9,266.5 137.2,279.4 138.2,277.8 138.5,277.8 138.9,259.5 139.2,268.6 139.6,264.0 139.9,264.0 140.3,250.3 140.6,264.0 141.0,277.8 141.3,259.5 141.7,254.9 142.1,268.6 142.7,234.1 143.7,255.1 144.0,255.1 144.4,262.7 144.7,247.6 145.1,251.4 145.4,262.7 145.8,251.4 146.1,258.9 146.4,258.9 146.8,258.9 147.1,258.9 147.5,262.7 147.8,251.4 148.2,262.7 148.5,258.9 148.5,263.2 148.9,272.9 149.2,263.2 149.6,272.9 150.0,263.2 150.3,277.8 150.7,272.9 151.0,268.1 151.4,277.8 151.8,282.6 151.8,272.9 152.1,277.8 152.5,268.1 152.8,268.1 153.2,272.9 153.6,268.1 153.9,268.1 154.3,272.9 154.6,292.4 155.0,282.6 155.0,298.8 155.4,308.5 155.7,308.5 156.1,289.1 156.5,298.8 156.9,298.8 157.2,298.8 157.6,303.7 158.2,311.8 158.9,295.6 159.2,287.5 159.6,287.5 159.9,287.5 160.3,283.5 160.6,295.6 160.9,291.5 161.3,287.5 161.6,279.4 162.0,303.7 162.3,303.7 162.7,303.7 163.0,299.6 163.3,295.6 163.7,291.5 164.0,291.5 164.4,291.5 164.7,303.7 166.3,279.4 167.0,297.2 167.3,305.3 167.6,297.2 168.0,285.1 168.3,289.1 168.6,301.3 168.9,297.2 169.6,279.4 170.2,303.1 170.5,307.5 170.9,307.5 171.2,298.8 171.5,298.8 171.8,290.2 172.2,307.5 172.8,326.3 173.8,315.0 174.1,315.0 174.5,321.5 174.9,308.5 175.2,305.3 175.6,305.3 175.9,315.0 176.3,311.8 176.7,305.3 177.0,305.3 177.4,308.5 177.7,311.8 178.1,302.1 178.5,302.1 178.8,311.8 179.2,315.0 179.5,315.0 179.9,308.5 180.3,305.3 180.9,312.9 181.3,295.6 181.6,312.9 181.9,308.5 182.3,308.5 182.6,304.2 183.0,312.9 183.3,312.9 183.7,308.5 184.0,308.5 184.4,312.9 184.7,295.6 185.1,299.9 185.4,304.2 185.7,317.2 186.1,308.5 186.7,294.0 187.4,316.1 187.7,316.1 188.1,305.6 188.5,312.6 188.8,316.1 189.2,316.1 189.5,319.6 189.9,319.6 190.3,312.6 190.6,312.6 191.0,319.6 191.3,309.1 191.7,312.6 192.1,312.6 192.4,316.1 192.8,309.1 193.1,316.1 193.5,309.1 193.9,305.6 193.9,324.7 194.2,324.7 194.5,303.1 194.8,307.5 195.2,320.4 195.5,303.1 195.8,307.5 196.4,329.6 197.4,320.4 197.8,307.5 198.1,303.1 198.5,316.1 198.9,298.8 199.2,316.1 199.6,316.1 200.0,316.1 200.3,320.4 200.3,304.2 200.7,308.5 201.1,295.6 201.4,295.6 201.8,295.6 202.1,312.9 202.5,308.5 202.9,317.2 203.2,312.9 203.6,317.2 204.2,294.0 205.2,302.1 205.5,302.1 205.9,297.2 206.2,292.4 206.6,306.9 207.0,306.9 207.3,311.8 207.7,311.8 208.0,311.8 208.4,297.2 208.7,306.9 209.1,292.4 209.4,306.9 209.8,321.5 210.1,316.6 210.5,297.2 210.8,297.2 211.2,302.1 211.5,311.8 211.9,311.8 212.2,302.1 212.6,321.5 212.9,306.9 213.3,306.9 213.3,311.8 213.7,302.1 214.0,302.1 214.4,302.1 214.8,302.1 215.1,302.1 215.5,302.1 215.9,311.8 216.5,290.7 218.1,326.3 219.8,298.8 221.1,282.6 222.4,277.8 223.0,287.0 223.4,295.6 223.7,304.2 224.1,304.2 224.4,291.3 224.8,282.6 225.2,291.3 225.5,291.3 225.9,304.2 226.2,295.6 227.2,292.4" fill="none" stroke="#000" stroke-width="2.50" stroke-linejoin="round"/>
<rect x="57.95" y="218.53" width="176.20" height="125.05" fill="none" stroke="#333" stroke-width="1.00"/>
<rect x="57.95" y="189.80" width="176.20" height="27.73" fill="#D9D9D9" stroke="#333" stroke-width="1.00"/>
<text transform="translate(146.05,208.70) scale(1,1.03)" font-size="15.3" fill="#1A1A1A" text-anchor="middle">1AK4</text>
<line x1="65.50" y1="343.78" x2="65.50" y2="348.22" stroke="#333" stroke-width="1.72"/>
<text transform="translate(65.50,363.70) scale(1,1.0)" font-size="15.2" fill="#4D4D4D" text-anchor="middle">0</text>
<line x1="97.72" y1="343.78" x2="97.72" y2="348.22" stroke="#333" stroke-width="1.72"/>
<text transform="translate(97.72,363.70) scale(1,1.0)" font-size="15.2" fill="#4D4D4D" text-anchor="middle">100</text>
<line x1="129.94" y1="343.78" x2="129.94" y2="348.22" stroke="#333" stroke-width="1.72"/>
<text transform="translate(129.94,363.70) scale(1,1.0)" font-size="15.2" fill="#4D4D4D" text-anchor="middle">200</text>
<line x1="162.16" y1="343.78" x2="162.16" y2="348.22" stroke="#333" stroke-width="1.72"/>
<text transform="translate(162.16,363.70) scale(1,1.0)" font-size="15.2" fill="#4D4D4D" text-anchor="middle">300</text>
<line x1="194.38" y1="343.78" x2="194.38" y2="348.22" stroke="#333" stroke-width="1.72"/>
<text transform="translate(194.38,363.70) scale(1,1.0)" font-size="15.2" fill="#4D4D4D" text-anchor="middle">400</text>
<line x1="226.60" y1="343.78" x2="226.60" y2="348.22" stroke="#333" stroke-width="1.72"/>
<text transform="translate(226.60,363.70) scale(1,1.0)" font-size="15.2" fill="#4D4D4D" text-anchor="middle">500</text>
<line x1="53.01" y1="323.75" x2="57.45" y2="323.75" stroke="#333" stroke-width="1.72"/>
<text transform="translate(49.40,329.19) scale(1,1.0)" font-size="15.2" fill="#4D4D4D" text-anchor="end">40</text>
<line x1="53.01" y1="290.41" x2="57.45" y2="290.41" stroke="#333" stroke-width="1.72"/>
<text transform="translate(49.40,295.85) scale(1,1.0)" font-size="15.2" fill="#4D4D4D" text-anchor="end">60</text>
<line x1="53.01" y1="257.08" x2="57.45" y2="257.08" stroke="#333" stroke-width="1.72"/>
<text transform="translate(49.40,262.52) scale(1,1.0)" font-size="15.2" fill="#4D4D4D" text-anchor="end">80</text>
<line x1="53.01" y1="223.75" x2="57.45" y2="223.75" stroke="#333" stroke-width="1.72"/>
<text transform="translate(49.40,229.19) scale(1,1.0)" font-size="15.2" fill="#4D4D4D" text-anchor="end">100</text>
<line x1="243.97" y1="340.41" x2="421.17" y2="340.41" stroke="#EBEBEB" stroke-width="0.86"/>
<line x1="243.97" y1="307.08" x2="421.17" y2="307.08" stroke="#EBEBEB" stroke-width="0.86"/>
<line x1="243.97" y1="273.75" x2="421.17" y2="273.75" stroke="#EBEBEB" stroke-width="0.86"/>
<line x1="243.97" y1="240.41" x2="421.17" y2="240.41" stroke="#EBEBEB" stroke-width="0.86"/>
<line x1="278.87" y1="218.03" x2="278.87" y2="343.78" stroke="#EBEBEB" stroke-width="0.86"/>
<line x1="332.57" y1="218.03" x2="332.57" y2="343.78" stroke="#EBEBEB" stroke-width="0.86"/>
<line x1="386.27" y1="218.03" x2="386.27" y2="343.78" stroke="#EBEBEB" stroke-width="0.86"/>
<line x1="243.97" y1="323.75" x2="421.17" y2="323.75" stroke="#EBEBEB" stroke-width="1.72"/>
<line x1="243.97" y1="290.41" x2="421.17" y2="290.41" stroke="#EBEBEB" stroke-width="1.72"/>
<line x1="243.97" y1="257.08" x2="421.17" y2="257.08" stroke="#EBEBEB" stroke-width="1.72"/>
<line x1="243.97" y1="223.75" x2="421.17" y2="223.75" stroke="#EBEBEB" stroke-width="1.72"/>
<line x1="252.02" y1="218.03" x2="252.02" y2="343.78" stroke="#EBEBEB" stroke-width="1.72"/>
<line x1="305.72" y1="218.03" x2="305.72" y2="343.78" stroke="#EBEBEB" stroke-width="1.72"/>
<line x1="359.42" y1="218.03" x2="359.42" y2="343.78" stroke="#EBEBEB" stroke-width="1.72"/>
<line x1="413.12" y1="218.03" x2="413.12" y2="343.78" stroke="#EBEBEB" stroke-width="1.72"/>
<clipPath id="c5"><rect x="243.97" y="218.03" width="177.20" height="125.75"/></clipPath>
<polyline clip-path="url(#c5)" points="251.5,223.5 252.2,249.4 252.7,233.5 253.2,233.5 253.7,230.5 254.2,239.4 254.7,239.4 255.5,255.7 256.0,243.6 256.5,239.4 257.1,237.3 257.6,237.3 258.2,237.3 258.7,239.4 259.2,239.4 259.8,239.4 259.8,238.1 260.3,241.9 260.9,240.0 261.4,243.8 262.0,238.1 262.5,245.6 263.1,245.6 263.6,238.1 264.2,240.0 264.7,240.0 265.3,241.9 265.8,241.9 266.4,241.9 266.9,238.1 267.5,236.2 268.0,234.3 268.6,243.8 268.6,238.3 269.1,241.0 269.7,241.0 270.2,241.0 270.8,241.0 271.3,251.9 271.8,241.0 272.4,241.0 274.4,229.3 274.9,239.4 275.4,236.8 275.9,246.9 276.5,246.9 277.0,241.9 277.5,239.4 278.1,234.3 278.6,246.9 279.1,246.9 279.6,246.9 280.2,244.4 280.7,241.9 281.2,249.4 281.9,237.3 282.5,238.9 283.0,240.6 283.6,235.6 284.1,235.6 284.7,245.6 285.2,238.9 285.8,244.0 286.3,244.0 286.9,240.6 287.4,242.3 287.9,238.9 288.5,238.9 289.0,237.3 289.6,240.6 290.1,242.3 290.7,237.3 291.2,244.0 291.8,245.6 292.3,237.3 292.9,238.9 293.4,238.9 294.0,245.6 294.5,242.3 295.0,245.6 295.0,242.9 295.6,244.4 296.1,238.5 296.7,238.5 297.2,241.5 297.7,241.5 298.3,241.5 298.8,240.0 299.4,240.0 299.9,241.5 300.4,240.0 301.0,237.0 301.5,242.9 302.1,237.0 302.6,237.0 303.9,226.3 304.6,244.4 305.2,244.4 305.7,238.1 306.3,239.4 306.8,241.9 307.4,240.6 307.9,240.6 308.5,238.1 309.0,239.4 309.6,244.4 310.1,240.6 310.7,239.4 312.2,229.3 312.7,255.7 313.2,255.7 313.7,250.7 314.2,240.6 314.7,248.2 315.2,245.6 315.2,262.0 315.7,264.1 316.2,268.3 316.7,266.2 317.2,255.7 317.7,268.3 317.7,270.0 318.2,270.0 318.7,270.0 319.2,270.0 319.7,275.0 320.2,273.3 321.5,258.2 322.2,271.7 322.8,273.8 323.4,265.4 323.9,269.6 324.5,263.3 325.0,273.8 325.6,269.6 326.1,273.8 326.7,273.8 327.2,273.8 327.8,273.8 327.8,260.8 328.3,269.1 328.9,260.8 329.4,260.8 329.9,260.8 330.5,269.1 331.0,262.9 331.6,262.9 331.6,278.4 332.1,278.4 332.7,265.8 333.2,280.9 333.8,280.9 334.4,268.3 334.9,270.8 335.5,270.8 336.0,265.8 336.6,278.4 338.6,284.7 339.4,275.0 339.9,258.2 340.5,261.6 341.0,265.0 341.6,278.4 342.1,268.3 342.7,271.7 343.2,261.6 343.8,265.0 344.3,261.6 344.9,278.4 345.4,278.4 346.7,255.7 347.4,270.8 348.0,267.7 348.5,264.5 349.0,267.7 349.6,258.2 350.1,258.2 350.7,267.7 351.2,270.8 351.7,267.7 352.3,267.7 352.8,264.5 353.3,261.4 353.9,264.5 354.4,264.5 355.0,277.1 355.5,261.4 355.5,263.7 356.0,266.4 356.6,266.4 357.1,269.1 357.6,266.4 358.2,261.0 358.7,261.0 359.3,263.7 359.8,263.7 360.3,269.1 360.9,269.1 361.4,271.9 362.0,271.9 362.5,271.9 363.0,263.7 363.0,259.9 363.6,263.3 364.2,268.3 364.7,263.3 365.3,263.3 365.9,263.3 366.4,261.6 367.0,261.6 367.6,265.0 368.1,259.9 368.7,265.0 369.3,265.0 369.8,263.3 370.4,263.3 371.0,263.3 371.5,266.6 372.1,265.0 372.6,278.4 374.4,255.7 375.1,258.2 375.7,258.2 376.2,270.8 376.8,270.8 377.4,258.2 377.9,264.5 378.5,262.4 379.0,268.7 379.6,270.8 380.1,268.7 380.7,260.3 381.3,260.3 381.8,260.3 382.4,258.2 382.9,260.3 383.5,260.3 384.0,258.2 384.6,258.2 385.2,270.8 385.7,260.3 387.7,255.7 388.7,261.2 389.3,267.9 389.8,267.9 390.4,266.2 390.9,261.2 391.4,264.5 392.0,261.2 392.5,267.9 393.1,266.2 393.6,261.2 394.2,261.2 394.7,262.9 395.2,266.2 395.8,266.2 397.0,280.9 398.3,264.5 398.9,264.5 399.5,264.5 400.1,273.3 400.7,267.5 401.3,267.5 402.1,255.7 402.8,260.8 403.4,264.1 403.9,267.5 404.4,267.5 405.0,270.8 405.5,270.8 406.1,267.5 406.6,280.9 407.1,280.9 407.1,267.3 407.7,264.1 408.3,267.3 408.9,265.2 409.6,293.5 410.1,273.3 410.7,275.9 411.3,270.8 411.8,273.3 412.4,275.9 412.9,272.1" fill="none" stroke="#000" stroke-width="2.50" stroke-linejoin="round"/>
<rect x="244.47" y="218.53" width="176.20" height="125.05" fill="none" stroke="#333" stroke-width="1.00"/>
<rect x="244.47" y="189.80" width="176.20" height="27.73" fill="#D9D9D9" stroke="#333" stroke-width="1.00"/>
<text transform="translate(332.57,208.70) scale(1,1.03)" font-size="15.3" fill="#1A1A1A" text-anchor="middle">1BRS</text>
<line x1="252.02" y1="343.78" x2="252.02" y2="348.22" stroke="#333" stroke-width="1.72"/>
<text transform="translate(252.02,363.70) scale(1,1.0)" font-size="15.2" fill="#4D4D4D" text-anchor="middle">0</text>
<line x1="305.72" y1="343.78" x2="305.72" y2="348.22" stroke="#333" stroke-width="1.72"/>
<text transform="translate(305.72,363.70) scale(1,1.0)" font-size="15.2" fill="#4D4D4D" text-anchor="middle">100</text>
<line x1="359.42" y1="343.78" x2="359.42" y2="348.22" stroke="#333" stroke-width="1.72"/>
<text transform="translate(359.42,363.70) scale(1,1.0)" font-size="15.2" fill="#4D4D4D" text-anchor="middle">200</text>
<line x1="413.12" y1="343.78" x2="413.12" y2="348.22" stroke="#333" stroke-width="1.72"/>
<text transform="translate(413.12,363.70) scale(1,1.0)" font-size="15.2" fill="#4D4D4D" text-anchor="middle">300</text>
<line x1="430.49" y1="340.41" x2="607.69" y2="340.41" stroke="#EBEBEB" stroke-width="0.86"/>
<line x1="430.49" y1="307.08" x2="607.69" y2="307.08" stroke="#EBEBEB" stroke-width="0.86"/>
<line x1="430.49" y1="273.75" x2="607.69" y2="273.75" stroke="#EBEBEB" stroke-width="0.86"/>
<line x1="430.49" y1="240.41" x2="607.69" y2="240.41" stroke="#EBEBEB" stroke-width="0.86"/>
<line x1="465.39" y1="218.03" x2="465.39" y2="343.78" stroke="#EBEBEB" stroke-width="0.86"/>
<line x1="519.09" y1="218.03" x2="519.09" y2="343.78" stroke="#EBEBEB" stroke-width="0.86"/>
<line x1="572.79" y1="218.03" x2="572.79" y2="343.78" stroke="#EBEBEB" stroke-width="0.86"/>
<line x1="430.49" y1="323.75" x2="607.69" y2="323.75" stroke="#EBEBEB" stroke-width="1.72"/>
<line x1="430.49" y1="290.41" x2="607.69" y2="290.41" stroke="#EBEBEB" stroke-width="1.72"/>
<line x1="430.49" y1="257.08" x2="607.69" y2="257.08" stroke="#EBEBEB" stroke-width="1.72"/>
<line x1="430.49" y1="223.75" x2="607.69" y2="223.75" stroke="#EBEBEB" stroke-width="1.72"/>
<line x1="438.54" y1="218.03" x2="438.54" y2="343.78" stroke="#EBEBEB" stroke-width="1.72"/>
<line x1="492.24" y1="218.03" x2="492.24" y2="343.78" stroke="#EBEBEB" stroke-width="1.72"/>
<line x1="545.94" y1="218.03" x2="545.94" y2="343.78" stroke="#EBEBEB" stroke-width="1.72"/>
<line x1="599.64" y1="218.03" x2="599.64" y2="343.78" stroke="#EBEBEB" stroke-width="1.72"/>
<clipPath id="c6"><rect x="430.49" y="218.03" width="177.20" height="125.75"/></clipPath>
<polyline clip-path="url(#c6)" points="438.0,223.5 438.3,245.6 438.9,247.5 439.4,245.6 440.0,253.2 440.6,245.6 440.6,245.6 441.1,245.6 441.6,240.6 442.1,245.6 442.6,243.1 443.1,255.7 443.6,237.3 444.1,237.3 444.6,238.9 445.1,245.6 445.6,238.9 445.6,253.2 446.1,253.2 446.7,247.7 447.2,250.5 447.8,247.7 448.3,250.5 448.9,245.0 449.4,239.6 449.9,245.0 450.5,239.6 451.0,236.8 451.6,250.5 452.1,250.5 452.6,247.7 453.2,231.8 453.7,245.2 454.2,247.3 454.7,245.2 455.2,243.1 455.7,241.0 455.7,236.8 456.2,239.4 456.8,241.9 457.4,244.4 457.9,239.4 458.5,239.4 459.1,239.4 459.6,236.8 460.2,246.9 460.7,234.3 461.2,244.8 461.7,244.8 462.3,244.8 462.8,247.5 463.3,244.8 463.9,250.3 464.4,242.1 464.9,255.7 465.4,242.1 466.0,250.3 466.5,244.8 467.0,255.7 467.8,246.1 468.3,250.7 468.8,248.4 469.4,248.4 469.9,248.4 470.5,243.8 471.0,250.7 471.5,239.1 472.0,235.6 472.8,238.1 473.4,247.5 473.9,247.5 474.5,245.6 475.1,240.0 475.6,243.8 476.2,247.5 476.8,247.5 477.3,241.9 477.9,243.8 478.5,243.8 479.0,247.5 479.6,241.9 479.6,246.1 480.1,249.4 480.7,252.8 481.2,252.8 481.8,242.7 482.3,256.1 482.8,242.7 483.4,239.4 483.9,229.3 484.6,247.7 485.2,253.6 485.8,256.6 486.4,244.8 486.9,256.6 487.5,241.9 488.1,241.9 488.6,256.6 489.2,241.9 489.8,244.8 490.4,244.8 490.9,253.6 492.9,229.3 493.5,242.9 494.0,242.9 494.5,237.0 495.1,240.0 495.6,235.6 496.1,237.0 496.7,241.5 497.2,240.0 497.2,252.6 497.8,248.0 498.3,252.6 498.8,257.2 499.4,257.2 499.9,254.9 500.5,250.3 501.0,254.9 501.0,257.0 501.6,250.7 502.1,250.7 502.7,241.2 503.2,244.4 503.8,241.2 504.4,244.4 504.9,241.2 505.5,238.1 506.0,244.4 506.0,249.6 506.6,249.6 507.2,245.0 507.7,242.7 508.3,247.3 508.8,251.9 509.4,245.0 510.0,249.6 510.5,251.9 511.1,247.3 511.1,241.9 511.6,245.2 512.1,262.0 512.7,262.0 513.2,251.9 513.7,251.9 514.2,255.3 514.8,258.7 515.3,245.2 515.8,245.2 516.3,262.0 516.9,248.6 517.4,262.0 518.6,231.8 519.9,248.2 520.5,243.1 521.0,255.7 521.6,245.6 522.1,243.1 522.7,250.7 523.3,255.7 523.8,255.7 524.4,248.2 524.9,248.2 525.7,235.6 526.4,248.0 527.0,257.2 527.5,259.5 528.0,259.5 528.6,254.9 529.1,259.5 529.6,248.0 530.2,248.0 530.7,252.6 531.2,248.0 531.2,247.3 531.8,241.9 532.3,241.9 532.8,247.3 533.4,250.1 533.9,247.3 534.5,247.3 535.0,250.1 535.0,249.4 535.5,249.4 536.0,247.5 536.5,243.8 537.0,243.8 537.5,247.5 537.5,260.8 538.0,253.2 538.5,263.3 539.0,258.2 539.5,273.3 540.3,255.7 540.9,264.1 541.5,257.8 542.1,268.3 542.6,259.9 543.2,257.8 543.8,264.1 543.8,266.4 544.4,261.0 544.9,263.7 545.4,261.0 546.0,271.9 546.5,258.2 547.1,274.6 547.6,258.2 548.4,270.0 548.9,270.0 549.5,263.3 550.1,259.9 550.6,259.9 550.9,253.2 551.2,256.6 551.8,259.9 552.3,256.6 552.9,263.3 553.4,274.6 553.9,252.6 554.4,256.3 555.0,250.7 555.5,250.7 556.1,250.7 556.6,262.0 557.2,252.6 557.7,252.6 558.3,260.1 558.8,254.5 559.4,260.1 559.9,260.1 560.7,241.9 561.5,256.1 562.0,257.6 562.5,257.6 563.0,257.6 563.5,262.0 564.0,257.6 564.0,263.3 564.5,265.8 565.1,265.8 565.6,258.2 566.2,270.8 566.7,258.2 567.2,277.1 568.0,258.2 568.6,260.8 569.2,260.8 569.8,258.2 570.4,268.3 570.9,268.3 571.5,260.8 572.8,246.9 573.5,253.2 574.1,265.8 574.6,258.2 575.2,253.2 575.7,265.8 576.2,250.7 576.8,260.8 577.3,260.8 577.8,260.8 578.4,253.2 578.9,265.8 579.5,253.2 580.0,263.3 580.5,250.7 581.1,265.8 581.6,253.2 581.6,267.5 582.2,258.7 582.7,264.5 583.3,264.5 583.9,270.4 584.4,264.5 585.0,273.3 585.6,267.5 586.1,255.7 586.6,277.1 587.4,266.2 587.9,257.8 588.5,259.9 589.0,257.8 589.5,255.7 590.1,257.8 590.6,262.0 591.1,264.1 591.7,268.3 591.7,257.0 592.2,264.5 592.8,264.5 593.4,262.6 594.0,253.2 594.5,262.6 595.1,258.9 595.7,258.9 596.3,260.8 596.8,260.8 597.4,257.0 598.0,257.0 598.7,260.8" fill="none" stroke="#000" stroke-width="2.50" stroke-linejoin="round"/>
<rect x="430.99" y="218.53" width="176.20" height="125.05" fill="none" stroke="#333" stroke-width="1.00"/>
<rect x="430.99" y="189.80" width="176.20" height="27.73" fill="#D9D9D9" stroke="#333" stroke-width="1.00"/>
<text transform="translate(519.09,208.70) scale(1,1.03)" font-size="15.3" fill="#1A1A1A" text-anchor="middle">3SGB</text>
<line x1="438.54" y1="343.78" x2="438.54" y2="348.22" stroke="#333" stroke-width="1.72"/>
<text transform="translate(438.54,363.70) scale(1,1.0)" font-size="15.2" fill="#4D4D4D" text-anchor="middle">0</text>
<line x1="492.24" y1="343.78" x2="492.24" y2="348.22" stroke="#333" stroke-width="1.72"/>
<text transform="translate(492.24,363.70) scale(1,1.0)" font-size="15.2" fill="#4D4D4D" text-anchor="middle">100</text>
<line x1="545.94" y1="343.78" x2="545.94" y2="348.22" stroke="#333" stroke-width="1.72"/>
<text transform="translate(545.94,363.70) scale(1,1.0)" font-size="15.2" fill="#4D4D4D" text-anchor="middle">200</text>
<line x1="599.64" y1="343.78" x2="599.64" y2="348.22" stroke="#333" stroke-width="1.72"/>
<text transform="translate(599.64,363.70) scale(1,1.0)" font-size="15.2" fill="#4D4D4D" text-anchor="middle">300</text>
<line x1="617.01" y1="340.41" x2="794.21" y2="340.41" stroke="#EBEBEB" stroke-width="0.86"/>
<line x1="617.01" y1="307.08" x2="794.21" y2="307.08" stroke="#EBEBEB" stroke-width="0.86"/>
<line x1="617.01" y1="273.75" x2="794.21" y2="273.75" stroke="#EBEBEB" stroke-width="0.86"/>
<line x1="617.01" y1="240.41" x2="794.21" y2="240.41" stroke="#EBEBEB" stroke-width="0.86"/>
<line x1="651.91" y1="218.03" x2="651.91" y2="343.78" stroke="#EBEBEB" stroke-width="0.86"/>
<line x1="705.61" y1="218.03" x2="705.61" y2="343.78" stroke="#EBEBEB" stroke-width="0.86"/>
<line x1="759.31" y1="218.03" x2="759.31" y2="343.78" stroke="#EBEBEB" stroke-width="0.86"/>
<line x1="617.01" y1="323.75" x2="794.21" y2="323.75" stroke="#EBEBEB" stroke-width="1.72"/>
<line x1="617.01" y1="290.41" x2="794.21" y2="290.41" stroke="#EBEBEB" stroke-width="1.72"/>
<line x1="617.01" y1="257.08" x2="794.21" y2="257.08" stroke="#EBEBEB" stroke-width="1.72"/>
<line x1="617.01" y1="223.75" x2="794.21" y2="223.75" stroke="#EBEBEB" stroke-width="1.72"/>
<line x1="625.06" y1="218.03" x2="625.06" y2="343.78" stroke="#EBEBEB" stroke-width="1.72"/>
<line x1="678.76" y1="218.03" x2="678.76" y2="343.78" stroke="#EBEBEB" stroke-width="1.72"/>
<line x1="732.46" y1="218.03" x2="732.46" y2="343.78" stroke="#EBEBEB" stroke-width="1.72"/>
<line x1="786.16" y1="218.03" x2="786.16" y2="343.78" stroke="#EBEBEB" stroke-width="1.72"/>
<clipPath id="c7"><rect x="617.01" y="218.03" width="177.20" height="125.75"/></clipPath>
<polyline clip-path="url(#c7)" points="624.4,223.5 625.4,236.8 626.1,247.3 626.6,247.3 627.1,240.6 627.6,247.3 628.1,249.0 628.6,247.3 628.6,248.6 629.1,245.2 629.6,248.6 630.2,246.9 630.7,250.3 631.2,250.3 631.9,233.1 632.7,248.8 633.2,241.2 633.7,243.1 634.3,245.0 634.8,245.0 635.3,245.0 635.9,239.4 636.4,245.0 637.0,246.9 637.5,246.9 638.0,245.0 638.6,246.9 639.1,241.2 639.6,241.2 640.2,248.8 640.7,245.0 641.2,245.0 641.2,240.6 641.8,240.6 642.4,243.1 642.9,243.1 643.5,245.6 644.0,244.4 644.6,246.9 645.2,245.6 645.7,240.6 646.3,245.6 646.9,243.1 647.4,240.6 648.0,243.1 648.5,241.9 649.3,263.3 650.0,242.7 650.6,242.7 651.1,244.2 651.6,239.8 652.1,239.8 652.6,239.8 652.6,241.9 653.1,243.1 653.7,241.9 654.2,238.1 654.8,238.1 655.4,238.1 655.9,241.9 656.5,239.4 657.0,240.6 657.6,244.4 657.6,240.2 658.1,240.2 658.6,244.4 659.1,244.4 659.6,240.2 660.1,240.2 662.1,236.8 663.1,278.4 664.2,283.4 665.4,280.9 666.4,291.0 667.4,268.3 668.2,258.2 668.9,250.9 669.5,255.3 670.0,252.4 670.6,250.9 671.1,252.4 671.6,252.4 672.2,252.4 672.7,253.8 672.7,253.2 673.3,248.2 673.8,253.2 674.3,250.7 674.9,250.7 675.4,251.9 675.9,253.2 676.5,253.2 677.0,246.9 677.8,241.9 678.8,255.7 680.3,280.9 681.5,248.2 683.5,234.3 684.3,246.5 684.8,246.5 685.4,239.8 685.9,248.2 686.4,248.2 687.0,248.2 687.5,239.8 688.0,241.5 688.6,244.8 689.1,243.1 689.7,241.5 690.2,243.1 690.7,244.8 691.3,243.1 691.8,244.8 692.3,248.2 692.9,244.8 692.9,242.7 693.4,242.7 693.9,244.8 694.5,246.9 695.0,244.8 695.6,242.7 696.1,240.6 696.6,241.7 697.2,241.7 697.7,245.9 698.3,242.7 698.8,240.6 699.3,245.9 699.9,241.7 700.4,244.8 700.4,240.0 701.0,245.6 701.5,238.1 702.0,238.1 702.6,243.8 703.1,247.5 703.7,247.5 704.2,249.4 705.5,257.0 707.5,234.3 708.2,239.1 708.8,241.5 709.3,248.4 709.9,248.4 710.4,250.7 711.0,241.5 711.5,248.4 712.1,243.8 712.6,243.8 713.2,250.7 713.7,243.8 714.3,246.1 714.3,236.8 714.8,236.8 715.4,241.9 715.9,246.9 716.4,244.4 717.0,234.3 717.5,236.8 718.1,249.4 718.1,245.6 718.6,245.6 719.2,247.5 719.8,245.6 720.3,247.5 720.9,243.8 721.5,249.4 722.0,243.8 722.6,240.0 723.1,231.8 723.8,242.3 724.4,253.2 724.9,247.7 725.5,247.7 726.0,245.0 726.5,245.0 727.1,239.6 727.6,242.3 728.1,242.3 729.4,230.5 730.1,250.7 730.7,244.4 731.2,253.8 731.8,257.0 732.4,257.0 732.9,241.2 733.5,250.7 734.0,257.0 734.6,244.4 735.1,247.5 735.7,250.7 735.7,249.4 736.2,252.6 736.8,236.8 737.4,246.3 737.9,255.7 738.5,249.4 739.1,243.1 739.6,246.3 740.2,236.8 740.7,234.3 742.5,264.5 743.2,242.3 743.8,240.2 744.4,248.6 744.9,250.7 745.5,248.6 746.0,244.4 746.6,242.3 747.2,246.5 747.7,244.4 748.3,240.2 748.3,246.1 748.8,248.4 749.4,239.1 750.0,248.4 750.6,250.7 751.1,250.7 751.7,248.4 752.3,241.5 752.9,239.1 753.4,239.1 754.0,246.1 754.6,248.4 754.6,250.7 755.1,240.2 755.7,240.2 756.2,240.2 756.7,240.2 757.3,244.4 757.8,246.5 758.3,246.5 758.3,247.3 758.9,249.6 759.5,247.3 760.0,247.3 760.6,249.6 761.2,242.7 761.8,242.7 762.3,249.6 762.9,242.7 763.5,247.3 764.0,240.4 764.6,245.0 765.2,238.1 765.7,249.6 766.3,247.3 766.9,240.4 767.4,245.0 767.9,254.5 768.4,245.2 769.0,243.6 769.6,245.2 770.2,238.5 770.8,241.9 771.4,243.6 772.2,264.5 773.0,242.5 773.6,236.8 774.2,242.5 774.8,246.3 775.4,246.3 776.0,240.6 777.2,228.0 778.5,248.2 779.8,262.0 780.5,244.4 781.0,244.4 781.6,240.2 782.1,246.5 782.7,240.2 783.2,250.7 783.7,250.7 784.3,242.3 784.8,242.3 785.6,248.2" fill="none" stroke="#000" stroke-width="2.50" stroke-linejoin="round"/>
<rect x="617.51" y="218.53" width="176.20" height="125.05" fill="none" stroke="#333" stroke-width="1.00"/>
<rect x="617.51" y="189.80" width="176.20" height="27.73" fill="#D9D9D9" stroke="#333" stroke-width="1.00"/>
<text transform="translate(705.61,208.70) scale(1,1.03)" font-size="15.3" fill="#1A1A1A" text-anchor="middle">1EMV</text>
<line x1="625.06" y1="343.78" x2="625.06" y2="348.22" stroke="#333" stroke-width="1.72"/>
<text transform="translate(625.06,363.70) scale(1,1.0)" font-size="15.2" fill="#4D4D4D" text-anchor="middle">0</text>
<line x1="678.76" y1="343.78" x2="678.76" y2="348.22" stroke="#333" stroke-width="1.72"/>
<text transform="translate(678.76,363.70) scale(1,1.0)" font-size="15.2" fill="#4D4D4D" text-anchor="middle">100</text>
<line x1="732.46" y1="343.78" x2="732.46" y2="348.22" stroke="#333" stroke-width="1.72"/>
<text transform="translate(732.46,363.70) scale(1,1.0)" font-size="15.2" fill="#4D4D4D" text-anchor="middle">200</text>
<line x1="786.16" y1="343.78" x2="786.16" y2="348.22" stroke="#333" stroke-width="1.72"/>
<text transform="translate(786.16,363.70) scale(1,1.0)" font-size="15.2" fill="#4D4D4D" text-anchor="middle">300</text>
<text transform="translate(425.5,384.5) scale(1,1.03)" font-size="18.5" fill="#000" text-anchor="middle">Time (ns)</text>
<text transform="translate(16,187.75) rotate(-90) scale(1,1.03)" font-size="18.5" fill="#000" text-anchor="middle">% of initial contacts</text>
</svg></body></html>
